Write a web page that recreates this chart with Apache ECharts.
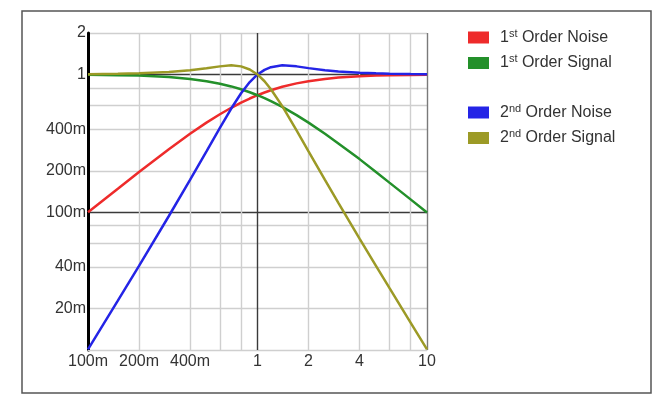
<!DOCTYPE html>
<html>
<head>
<meta charset="utf-8">
<script src="https://cdn.jsdelivr.net/npm/echarts@6/dist/echarts.min.js"></script>
<style>
html,body{margin:0;padding:0;background:#fff;}
#chart{width:669px;height:403px;}
</style>
</head>
<body>
<div id="chart"></div>
<script>
// Frequency (x) samples
const freq = [0.1, 0.15, 0.2, 0.3, 0.4, 0.5, 0.6, 0.7, 0.8, 0.9, 1, 1.1, 1.2, 1.4, 1.7, 2, 2.5, 3, 4, 5, 6, 8, 10];

const noise1st  = [0.100, 0.148, 0.196, 0.287, 0.371, 0.447, 0.514, 0.573, 0.625, 0.669, 0.707, 0.740, 0.768, 0.814, 0.862, 0.894, 0.928, 0.949, 0.970, 0.981, 0.986, 0.992, 0.995];
const signal1st = [0.995, 0.989, 0.981, 0.958, 0.928, 0.894, 0.857, 0.819, 0.781, 0.743, 0.707, 0.673, 0.640, 0.581, 0.507, 0.447, 0.371, 0.316, 0.243, 0.196, 0.164, 0.124, 0.0995];
const noise2nd  = [0.0101, 0.0228, 0.0408, 0.0939, 0.172, 0.277, 0.410, 0.566, 0.730, 0.881, 1.000, 1.080, 1.130, 1.165, 1.145, 1.112, 1.075, 1.053, 1.031, 1.020, 1.014, 1.008, 1.005];
const signal2nd = [1.005, 1.011, 1.020, 1.044, 1.075, 1.109, 1.145, 1.165, 1.145, 1.087, 1.000, 0.893, 0.782, 0.589, 0.393, 0.277, 0.172, 0.117, 0.0644, 0.0408, 0.0282, 0.0158, 0.0101];

const seriesNames = ['1st Order Noise', '1st Order Signal', '2nd Order Noise', '2nd Order Signal'];
const seriesColors = ['#ee2b2b', '#23902a', '#2424e6', '#9c9a26'];
const seriesValues = [noise1st, signal1st, noise2nd, signal2nd];

const xTickLabels = [0.1, 0.2, 0.4, 1, 2, 4, 10];
const xGrid = [0.1, 0.2, 0.4, 0.6, 0.8, 1, 2, 4, 6, 8, 10];
const yTickLabels = [0.02, 0.04, 0.1, 0.2, 0.4, 1, 2];
const yGrid = [0.01, 0.02, 0.04, 0.06, 0.08, 0.1, 0.2, 0.4, 0.6, 0.8, 1, 2];

function fmt(v) {
  if (v < 0.999) return Math.round(v * 1000) + 'm';
  return String(Math.round(v));
}

const LIGHT = '#cfcfcf', DARK = '#3a3a3a';
const xGridColors = xGrid.map(v => (Math.abs(v - 1) < 1e-9 ? DARK : (Math.abs(v - 10) < 1e-9 ? '#7a7a7a' : (Math.abs(v - 0.1) < 1e-9 ? '#000' : LIGHT))));
const yGridColors = yGrid.map(v => ((Math.abs(v - 1) < 1e-9 || Math.abs(v - 0.1) < 1e-9) ? DARK : LIGHT));

const FONT = '"Liberation Sans", Arial, sans-serif';

const richLegend = {
  a: { fontSize: 16, color: '#333', fontFamily: FONT, lineHeight: 19 },
  p: { fontSize: 16, color: '#333', fontFamily: FONT, lineHeight: 19, padding: [0, 0, 0, 6] },
  s: { fontSize: 11, color: '#333', fontFamily: FONT, lineHeight: 11, verticalAlign: 'top' }
};
function legendFmt(name) {
  const m = name.match(/^(\d)(st|nd|rd|th)(.*)$/);
  if (!m) return '{p|' + name + '}';
  return '{p|' + m[1] + '}{s|' + m[2] + '}{a|' + m[3] + '}';
}

const chart = echarts.init(document.getElementById('chart'), null, { renderer: 'canvas' });

const series = seriesNames.map((n, i) => ({
  name: n,
  type: 'line',
  color: seriesColors[i],
  showSymbol: false,
  symbol: 'none',
  lineStyle: { width: 2.5, color: seriesColors[i] },
  data: freq.map((f, k) => [f, seriesValues[i][k]]),
  z: 3 + i
}));

chart.setOption({
  backgroundColor: '#fff',
  animation: false,
  graphic: [{
    type: 'rect',
    shape: { x: 22, y: 11, width: 629, height: 382 },
    style: { fill: 'none', stroke: '#555', lineWidth: 1.5 },
    silent: true
  }],
  legend: [{
    data: seriesNames.slice(0, 2),
    orient: 'vertical',
    left: 463, top: 23,
    icon: 'rect',
    itemWidth: 21, itemHeight: 12,
    itemGap: 8,
    formatter: legendFmt,
    textStyle: { rich: richLegend }
  }, {
    data: seriesNames.slice(2, 4),
    orient: 'vertical',
    left: 463, top: 98,
    icon: 'rect',
    itemWidth: 21, itemHeight: 12,
    itemGap: 8,
    formatter: legendFmt,
    textStyle: { rich: richLegend }
  }],
  grid: { left: 88, right: 242, top: 33, bottom: 53, containLabel: false },
  xAxis: {
    type: 'log', logBase: 10, min: 0.1, max: 10,
    axisLine: { show: true, lineStyle: { color: LIGHT, width: 1 } },
    axisTick: { show: false, customValues: xGrid },
    axisLabel: { customValues: xTickLabels, formatter: fmt, fontSize: 16, color: '#333', fontFamily: FONT, margin: 4 },
    splitLine: { show: true, lineStyle: { color: xGridColors, width: 1.4 } },
    minorTick: { show: false }, minorSplitLine: { show: false }
  },
  yAxis: {
    type: 'log', logBase: 10, min: 0.01, max: 2,
    axisLine: { show: true, onZero: false, lineStyle: { color: '#000', width: 3 } },
    axisTick: { show: false, customValues: yGrid },
    axisLabel: { customValues: yTickLabels, formatter: fmt, fontSize: 16, color: '#333', fontFamily: FONT, margin: 2 },
    splitLine: { show: true, lineStyle: { color: yGridColors, width: 1.4 } },
    minorTick: { show: false }, minorSplitLine: { show: false }
  },
  series: series
});
</script>
</body>
</html>
